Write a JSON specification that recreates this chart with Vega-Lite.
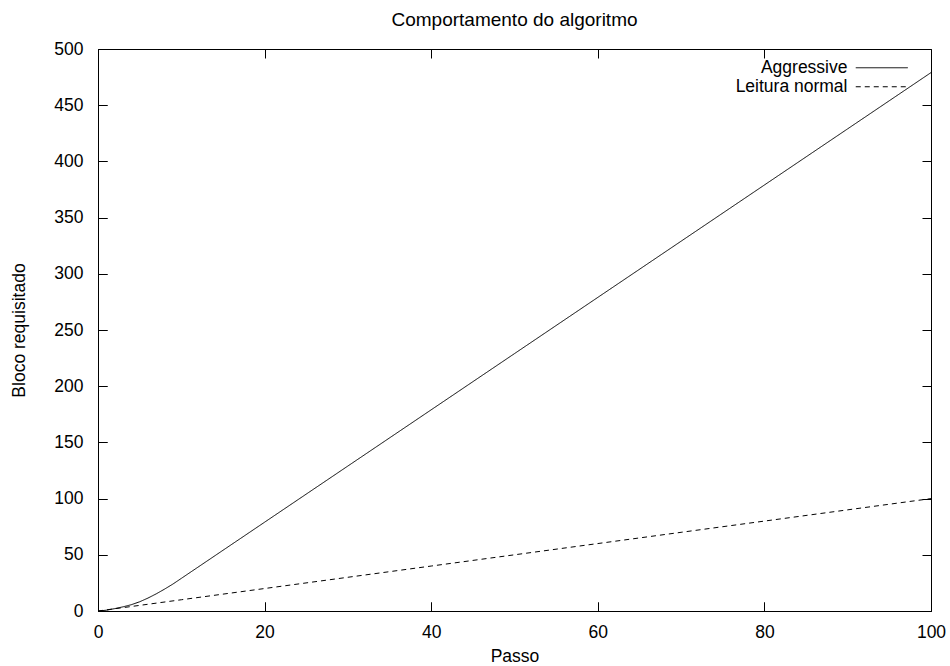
{
  "$schema": "https://vega.github.io/schema/vega-lite/v6.json",
  "width": 833,
  "height": 562,
  "autosize": {"type": "none"},
  "padding": {"left": 98, "top": 49, "right": 19, "bottom": 55},
  "background": "white",
  "title": {"text": "Comportamento do algoritmo", "font": "Liberation Sans", "fontSize": 19, "fontWeight": "normal", "color": "black", "anchor": "middle", "offset": 10},
  "config": {
    "view": {"stroke": "black", "strokeWidth": 1},
    "axis": {"domain": false, "ticks": true, "tickColor": "black", "tickWidth": 1, "tickSize": -9, "grid": true, "gridColor": "black", "gridOpacity": 1, "gridWidth": 1, "labelFlush": false, "labelFont": "Liberation Sans", "labelFontSize": 17.5, "labelColor": "black", "titleFont": "Liberation Sans", "titleFontSize": 17.5, "titleFontWeight": "normal", "titleColor": "black"},
    "legend": {"labelFont": "Liberation Sans", "labelFontSize": 17.5, "labelColor": "black"}
  },
  "data": {"values": [
    {"passo": 0, "bloco": 0, "serie": "Aggressive"},
    {"passo": 1, "bloco": 0.7, "serie": "Aggressive"},
    {"passo": 2, "bloco": 2.1, "serie": "Aggressive"},
    {"passo": 3, "bloco": 3.7, "serie": "Aggressive"},
    {"passo": 4, "bloco": 5.6, "serie": "Aggressive"},
    {"passo": 5, "bloco": 8.2, "serie": "Aggressive"},
    {"passo": 6, "bloco": 11.5, "serie": "Aggressive"},
    {"passo": 7, "bloco": 15.3, "serie": "Aggressive"},
    {"passo": 8, "bloco": 19.5, "serie": "Aggressive"},
    {"passo": 9, "bloco": 24, "serie": "Aggressive"},
    {"passo": 10, "bloco": 29, "serie": "Aggressive"},
    {"passo": 20, "bloco": 79, "serie": "Aggressive"},
    {"passo": 30, "bloco": 129, "serie": "Aggressive"},
    {"passo": 40, "bloco": 179, "serie": "Aggressive"},
    {"passo": 50, "bloco": 229, "serie": "Aggressive"},
    {"passo": 60, "bloco": 279, "serie": "Aggressive"},
    {"passo": 70, "bloco": 329, "serie": "Aggressive"},
    {"passo": 80, "bloco": 379, "serie": "Aggressive"},
    {"passo": 90, "bloco": 429, "serie": "Aggressive"},
    {"passo": 100, "bloco": 479, "serie": "Aggressive"},
    {"passo": 0, "bloco": 0, "serie": "Leitura normal"},
    {"passo": 10, "bloco": 10, "serie": "Leitura normal"},
    {"passo": 20, "bloco": 20, "serie": "Leitura normal"},
    {"passo": 30, "bloco": 30, "serie": "Leitura normal"},
    {"passo": 40, "bloco": 40, "serie": "Leitura normal"},
    {"passo": 50, "bloco": 50, "serie": "Leitura normal"},
    {"passo": 60, "bloco": 60, "serie": "Leitura normal"},
    {"passo": 70, "bloco": 70, "serie": "Leitura normal"},
    {"passo": 80, "bloco": 80, "serie": "Leitura normal"},
    {"passo": 90, "bloco": 90, "serie": "Leitura normal"},
    {"passo": 100, "bloco": 100, "serie": "Leitura normal"}
  ]},
  "mark": {"type": "line", "color": "black", "strokeWidth": 1, "clip": true},
  "encoding": {
    "x": {"field": "passo", "type": "quantitative", "scale": {"domain": [0, 100], "nice": false}, "axis": {"title": "Passo", "tickCount": 5, "gridDash": [9, 544, 9], "labelPadding": 21, "titlePadding": 7}},
    "y": {"field": "bloco", "type": "quantitative", "scale": {"domain": [0, 500], "nice": false}, "axis": {"title": "Bloco requisitado", "tickCount": 10, "gridDash": [9, 815, 9], "labelPadding": 24, "titlePadding": 25}},
    "strokeDash": {"field": "serie", "type": "nominal", "scale": {"domain": ["Aggressive", "Leitura normal"], "range": [[1, 0], [5, 4]]},
      "legend": {"title": null, "orient": "none", "legendX": 775, "legendY": 10, "symbolType": "M-4,0H4", "symbolSize": 169, "symbolStrokeWidth": 1, "symbolStrokeColor": "black", "labelAlign": "right", "labelOffset": -43, "rowPadding": 0}}
  }
}
